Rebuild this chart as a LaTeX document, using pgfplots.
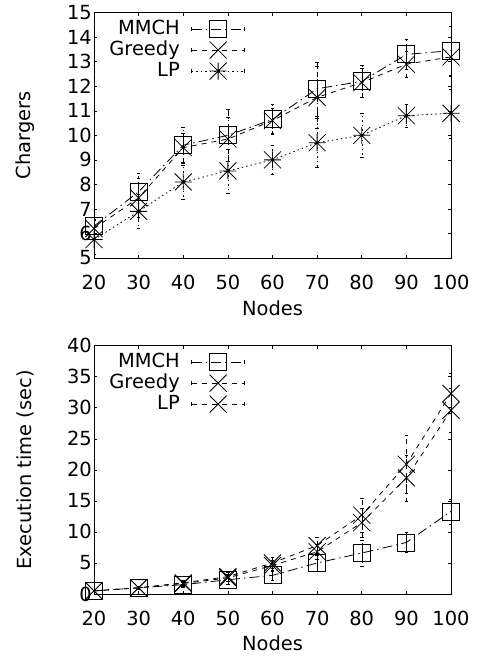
\documentclass[border=0pt]{standalone}
\usepackage{fontspec}
\setmainfont{DejaVu Sans}
\usepackage{pgfplots}
\pgfplotsset{compat=1.18}

% gnuplot-like point types
\pgfdeclareplotmark{gpx}{%
  \pgfpathmoveto{\pgfqpoint{-\pgfplotmarksize}{-\pgfplotmarksize}}%
  \pgfpathlineto{\pgfqpoint{\pgfplotmarksize}{\pgfplotmarksize}}%
  \pgfpathmoveto{\pgfqpoint{-\pgfplotmarksize}{\pgfplotmarksize}}%
  \pgfpathlineto{\pgfqpoint{\pgfplotmarksize}{-\pgfplotmarksize}}%
  \pgfusepathqstroke}
\pgfdeclareplotmark{gpstar}{%
  \pgfpathmoveto{\pgfqpoint{-\pgfplotmarksize}{0pt}}%
  \pgfpathlineto{\pgfqpoint{\pgfplotmarksize}{0pt}}%
  \pgfpathmoveto{\pgfqpoint{0pt}{-\pgfplotmarksize}}%
  \pgfpathlineto{\pgfqpoint{0pt}{\pgfplotmarksize}}%
  \pgfpathmoveto{\pgfqpoint{-\pgfplotmarksize}{-\pgfplotmarksize}}%
  \pgfpathlineto{\pgfqpoint{\pgfplotmarksize}{\pgfplotmarksize}}%
  \pgfpathmoveto{\pgfqpoint{-\pgfplotmarksize}{\pgfplotmarksize}}%
  \pgfpathlineto{\pgfqpoint{\pgfplotmarksize}{-\pgfplotmarksize}}%
  \pgfusepathqstroke}

\pgfplotsset{
  gp/.style={
    scale only axis, width=357bp,
    xmin=20, xmax=100, xtick={20,30,...,100},
    tick align=inside, major tick length=3bp,
    tick style={black, line width=0.6bp},
    axis line style={line width=0.8bp},
    font=\fontsize{19.5}{23}\selectfont,
    /pgf/number format/assume math mode=true,
    xticklabel style={yshift=-14bp},
    yticklabel style={inner xsep=2bp},
    xlabel={Nodes},
    legend plot pos=right,
    legend cell align=right,
    legend style={draw=none, fill=none, at={(axis description cs:0.03,0.985)},
      anchor=north west, font=\fontsize{19.5}{23}\selectfont, column sep=10bp,
      nodes={text height=14bp, text depth=4bp, inner sep=1.5bp}},
    legend image code/.code={
      \draw[mark repeat=2, mark phase=2] plot coordinates {(0bp,0bp)(26.5bp,0bp)(53bp,0bp)};
      \draw[solid] (0bp,-2bp)--(0bp,2bp) (53bp,-2bp)--(53bp,2bp);
    },
    error bars/y dir=both, error bars/y explicit,
    error bars/error mark options={rotate=90, mark size=1.8bp, solid},
  },
  base/.style={black, line width=0.8bp, mark size=8.5bp, mark options={solid}},
  mmch/.style={base, dash pattern=on 10bp off 4bp on 1.5bp off 4bp, mark=square},
  greedy/.style={base, dash pattern=on 5bp off 5bp, mark=gpx},
  lpdot/.style={base, dash pattern=on 1.5bp off 3bp, mark=gpstar},
}

\begin{document}
\begin{tikzpicture}
\path[use as bounding box] (0,0) rectangle (479bp,658bp);

% Chargers
\begin{axis}[gp, at={(94bp,400bp)}, anchor=south west, height=245.3bp,
  ymin=5, ymax=15, ytick={5,6,...,15},
  ylabel={Chargers},
  ylabel style={at={(axis description cs:-0.193,0.5)}, anchor=center},
  xlabel style={at={(axis description cs:0.5,-0.204)}, anchor=center}]
\addplot[mmch] table[x=n, y=v, y error=e] {
n v e
20 6.3 0.3
30 7.7 0.75
40 9.6 0.75
50 10.0 1.05
60 10.65 0.6
70 11.9 1.1
80 12.2 0.65
90 13.3 0.6
100 13.45 1.0
};
\addplot[greedy] table[x=n, y=v, y error=e] {
n v e
20 6.2 0.35
30 7.45 0.8
40 9.5 0.6
50 9.85 0.9
60 10.6 0.5
70 11.55 1.25
80 12.15 0.6
90 12.9 0.55
100 13.2 0.8
};
\addplot[lpdot] table[x=n, y=v, y error=e] {
n v e
20 5.75 0.6
30 6.9 0.7
40 8.1 0.7
50 8.55 0.9
60 9.0 0.6
70 9.7 1.0
80 10.0 0.9
90 10.8 0.45
100 10.9 1.0
};
\legend{MMCH, Greedy, LP}
\end{axis}

% Execution time
\begin{axis}[gp, at={(94bp,64bp)}, anchor=south west, height=248.3bp,
  ymin=0, ymax=40, ytick={0,5,...,40},
  ylabel={Execution time (sec)},
  ylabel style={at={(axis description cs:-0.193,0.5)}, anchor=center},
  xlabel style={at={(axis description cs:0.5,-0.198)}, anchor=center}]
\addplot[mmch] table[x=n, y=v, y error=e] {
n v e
20 0.5 0.15
30 1.0 0.25
40 1.5 0.4
50 2.3 0.8
60 3.0 0.7
70 5.0 1.3
80 6.6 2.1
90 8.3 1.6
100 13.3 2.0
};
\addplot[greedy] table[x=n, y=v, y error=e] {
n v e
20 0.5 0.15
30 1.0 0.25
40 1.8 0.4
50 2.8 0.7
60 5.0 0.9
70 7.8 1.3
80 12.7 2.7
90 20.9 4.7
100 32.3 3.2
};
\addplot[greedy] table[x=n, y=v, y error=e] {
n v e
20 0.5 0.15
30 1.0 0.25
40 1.7 0.4
50 2.6 0.6
60 4.6 0.8
70 6.8 1.2
80 11.5 2.3
90 18.7 3.7
100 29.6 3.5
};
\legend{MMCH, Greedy, LP}
\end{axis}
\end{tikzpicture}
\end{document}
